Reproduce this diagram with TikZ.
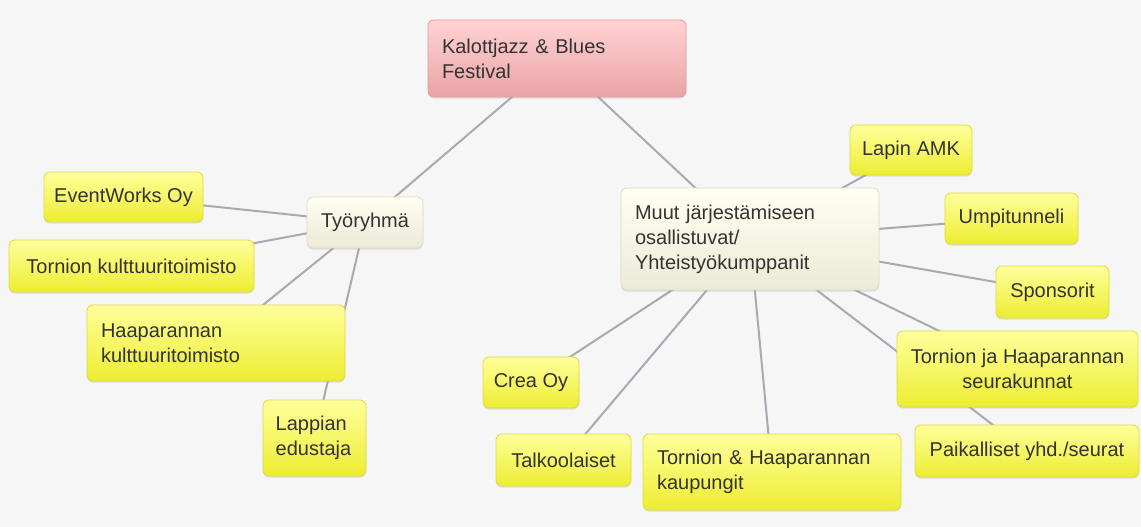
\documentclass[tikz,border=0pt]{standalone}
\usepackage{fontspec}
\setmainfont{Liberation Sans}
\usetikzlibrary{backgrounds,shadows}

\definecolor{inkgray}{HTML}{333333}
\definecolor{edgegray}{HTML}{A9A9B2}
\definecolor{canvas}{HTML}{F6F6F6}
\definecolor{pinktop}{HTML}{FFD3D4}
\definecolor{pinkbot}{HTML}{EAA3A6}
\definecolor{pinkline}{HTML}{E39A9D}
\definecolor{creamtop}{HTML}{FFFFF3}
\definecolor{creambot}{HTML}{ECEAD6}
\definecolor{creamline}{HTML}{DEDCC4}
\definecolor{yeltop}{HTML}{FFFF9C}
\definecolor{yelbot}{HTML}{EDED32}
\definecolor{yelline}{HTML}{DCDC3E}

\begin{document}
\begin{tikzpicture}[x=0.75pt,y=-0.75pt,
  every node/.style={font=\fontsize{15}{18.7}\selectfont,text=inkgray},
  box/.style={rounded corners=4.5pt,line width=0.6pt,inner ysep=0pt,
    drop shadow={shadow xshift=0pt,shadow yshift=-1.2pt,opacity=0.2}},
  root node/.style={box,draw=pinkline,top color=pinktop,bottom color=pinkbot},
  main node/.style={box,draw=creamline,top color=creamtop,bottom color=creambot},
  leaf node/.style={box,draw=yelline,top color=yeltop,bottom color=yelbot,inner xsep=6pt},
  left box/.style={inner xsep=10.5pt,align=left},
  link/.style={every edge/.style={draw=edgegray,line width=1.5pt}}]

  \useasboundingbox (0,0) rectangle (1141,527);

  \node[root node,left box,text width=172.5pt,minimum height=57.75pt] (0) at (557,58.5) {Kalottjazz \& Blues\\Festival};
  \node[main node,inner xsep=6pt,minimum width=87pt,minimum height=38.25pt] (1) at (365,222.5) {Työryhmä};
  \node[main node,left box,text width=172.5pt,minimum height=76.5pt] (2) at (750,239) {Muut järjestämiseen\\osallistuvat/\\Yhteistyökumppanit};

  % Työryhmä
  \node[leaf node,minimum width=119.25pt,minimum height=37.5pt] (3) at (123.5,197) {EventWorks Oy};
  \node[leaf node,minimum width=183.75pt,minimum height=39pt] (4) at (131.5,266) {Tornion kulttuuritoimisto};
  \node[leaf node,left box,text width=172.5pt,minimum height=57pt] (5) at (216,343) {Haaparannan\\kulttuuritoimisto};
  \node[leaf node,left box,inner xsep=9.5pt,text width=58.25pt,minimum height=57pt] (6) at (314.5,438) {Lappian\\edustaja};

  % yhteistyökumppanit
  \node[leaf node,minimum width=91.5pt,minimum height=37.5pt] (7) at (911,150) {Lapin AMK};
  \node[leaf node,minimum width=99.75pt,minimum height=38.25pt] (8) at (1011.5,218.5) {Umpitunneli};
  \node[leaf node,minimum width=84.75pt,minimum height=39pt] (9) at (1052.5,292) {Sponsorit};
  \node[leaf node,align=center,inner xsep=4pt,minimum width=180.75pt,minimum height=57pt] (10) at (1017.5,369) {Tornion ja Haaparannan\\seurakunnat};
  \node[leaf node,minimum width=168pt,minimum height=39pt] (11) at (1027,451) {Paikalliset yhd./seurat};
  \node[leaf node,minimum width=72pt,minimum height=38.25pt] (12) at (531,382.5) {Crea Oy};
  \node[leaf node,minimum width=101.25pt,minimum height=39pt] (13) at (563.5,460) {Talkoolaiset};
  \node[leaf node,left box,text width=172.5pt,minimum height=57pt] (14) at (772,472) {Tornion \& Haaparannan\\kaupungit};

  \begin{scope}[on background layer]
    \fill[canvas] (0,0) rectangle (1141,527);
    \path[link]
     (0.center) edge (1.center)
     (0.center) edge (2.center)
     (1.center) edge (3.center)
     (1.center) edge (4.center)
     (1.center) edge (5.center)
     (1.center) edge (6.center)
     (2.center) edge (7.center)
     (2.center) edge (8.center)
     (2.center) edge (9.center)
     (2.center) edge (10.center)
     (2.center) edge (11.center)
     (2.center) edge (12.center)
     (2.center) edge (13.center)
     (2.center) edge (14.center);
  \end{scope}
\end{tikzpicture}
\end{document}
